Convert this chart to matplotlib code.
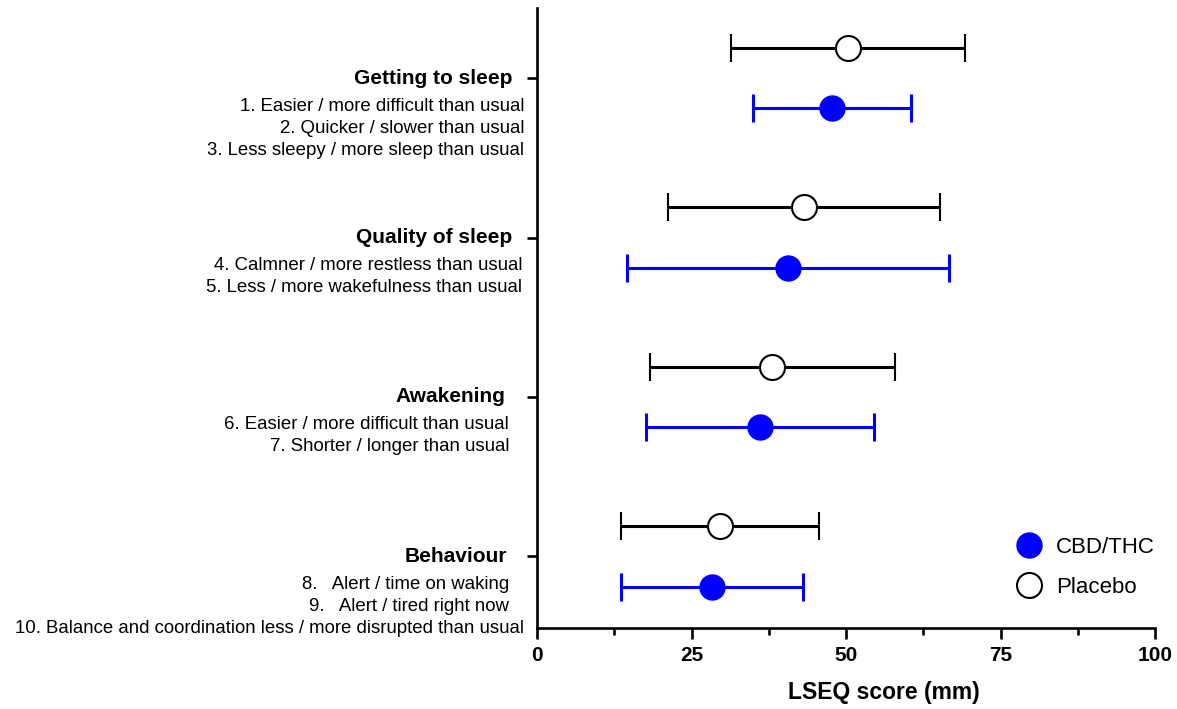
import numpy as np
import matplotlib
matplotlib.use('Agg')
import matplotlib.pyplot as plt
from matplotlib.lines import Line2D

plt.rcParams['font.family'] = ['Liberation Sans', 'DejaVu Sans']

# categories (top to bottom)
categories = ['Getting to sleep', 'Quality of sleep', 'Awakening', 'Behaviour']
items = [
    ['1. Easier / more difficult than usual',
     '2. Quicker / slower than usual',
     '3. Less sleepy / more sleep than usual'],
    ['4. Calmner / more restless than usual',
     '5. Less / more wakefulness than usual'],
    ['6. Easier / more difficult than usual',
     '7. Shorter / longer than usual'],
    ['8.   Alert / time on waking',
     '9.   Alert / tired right now',
     '10. Balance and coordination less / more disrupted than usual'],
]

# LSEQ scores (mm): mean, lower and upper ends of the bars
placebo_mean = [50.3, 43.2, 38.0, 29.6]
placebo_low = [31.4, 21.2, 18.3, 13.6]
placebo_high = [69.3, 65.2, 57.9, 45.6]

cbd_mean = [47.7, 40.6, 36.1, 28.3]
cbd_low = [35.0, 14.6, 17.6, 13.6]
cbd_high = [60.5, 66.7, 54.5, 43.0]

blue = '#0000ff'

fig = plt.figure(figsize=(11.77, 7.09), dpi=100)
ax = fig.add_axes([537 / 1177, 81 / 709, 618 / 1177, 620 / 709])

ypos = np.arange(len(categories))
off = 0.19

pm = np.array(placebo_mean)
cm = np.array(cbd_mean)
p_err = [pm - np.array(placebo_low), np.array(placebo_high) - pm]
c_err = [cm - np.array(cbd_low), np.array(cbd_high) - cm]

ax.errorbar(pm, ypos - off, xerr=p_err, fmt='o', color='black', ecolor='black',
            elinewidth=2.2, capsize=10, capthick=2.2, markersize=18,
            markerfacecolor='white', markeredgecolor='black', markeredgewidth=1.5,
            zorder=3)
ax.errorbar(cm, ypos + off, xerr=c_err, fmt='o', color=blue, ecolor=blue,
            elinewidth=2.2, capsize=10, capthick=2.2, markersize=18,
            markerfacecolor=blue, markeredgecolor=blue, zorder=3)

ax.set_xlim(0, 100)
ax.set_ylim(3.45, -0.44)

ax.spines['top'].set_visible(False)
ax.spines['right'].set_visible(False)
ax.spines['left'].set_linewidth(1.9)
ax.spines['bottom'].set_linewidth(1.9)

ax.set_xticks([0, 25, 50, 75, 100])
ax.set_xticks([12.5, 37.5, 62.5, 87.5], minor=True)
ax.tick_params(axis='x', which='major', length=8, width=1.9, pad=5,
               labelsize=15)
ax.tick_params(axis='x', which='minor', length=5, width=1.9)
for lab in ax.get_xticklabels():
    lab.set_fontweight('bold')

ax.set_yticks(ypos)
ax.set_yticklabels([''] * len(ypos))
ax.tick_params(axis='y', length=7, width=1.9)

ax.set_xlabel('LSEQ score (mm)', fontsize=16.5, fontweight='bold')
ax.xaxis.set_label_coords(0.561, -0.086)

# category labels and item lines left of the axis
head_dx = [-24, -25, -32, -30]
item_dx = [[-13, -13, -13], [-15, -15], [-28, -28], [-28, -28, -13]]
for i, cat in enumerate(categories):
    ax.annotate(cat, xy=(0, ypos[i]), xycoords=('axes fraction', 'data'),
                xytext=(head_dx[i], 0), textcoords='offset pixels',
                ha='right', va='center', fontsize=15, fontweight='bold')
    for k, line in enumerate(items[i]):
        ax.annotate(line, xy=(0, ypos[i]), xycoords=('axes fraction', 'data'),
                    xytext=(item_dx[i][k], -(28 + 22 * k)),
                    textcoords='offset pixels',
                    ha='right', va='center', fontsize=13.4)

handles = [
    Line2D([], [], marker='o', linestyle='none', markersize=18,
           markerfacecolor=blue, markeredgecolor=blue),
    Line2D([], [], marker='o', linestyle='none', markersize=18,
           markerfacecolor='white', markeredgecolor='black',
           markeredgewidth=1.5),
]
ax.legend(handles, ['CBD/THC', 'Placebo'], loc='center left',
          bbox_to_anchor=(0.757, 0.098), frameon=False, fontsize=16,
          handlelength=1.2, handletextpad=0.6, labelspacing=0.85,
          borderpad=0)

fig.savefig('out.png', dpi=100)
